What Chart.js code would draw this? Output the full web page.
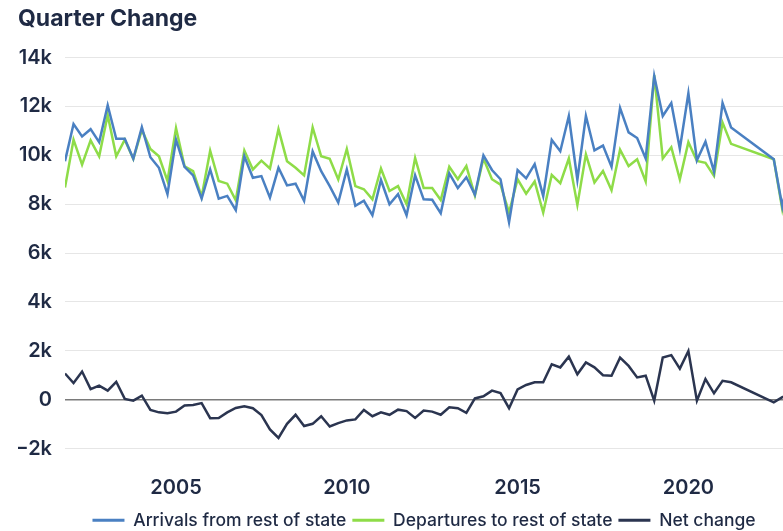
<!DOCTYPE html>
<html>
<head>
<meta charset="utf-8">
<script src="https://cdn.jsdelivr.net/npm/chart.js@4.4.1/dist/chart.umd.min.js"></script>
<style>
  html, body { margin: 0; padding: 0; background: #fff; overflow: hidden; }
  #wrap { width: 783px; height: 531px; position: relative; }
</style>
</head>
<body>
<div id="wrap"><canvas id="chart"></canvas></div>
<script>
// quarterly data, 2021 Q3 - 2022 Q2 missing in the source
const quarters = [
  '2001-Q4',
  '2002-Q1', '2002-Q2', '2002-Q3', '2002-Q4',
  '2003-Q1', '2003-Q2', '2003-Q3', '2003-Q4',
  '2004-Q1', '2004-Q2', '2004-Q3', '2004-Q4',
  '2005-Q1', '2005-Q2', '2005-Q3', '2005-Q4',
  '2006-Q1', '2006-Q2', '2006-Q3', '2006-Q4',
  '2007-Q1', '2007-Q2', '2007-Q3', '2007-Q4',
  '2008-Q1', '2008-Q2', '2008-Q3', '2008-Q4',
  '2009-Q1', '2009-Q2', '2009-Q3', '2009-Q4',
  '2010-Q1', '2010-Q2', '2010-Q3', '2010-Q4',
  '2011-Q1', '2011-Q2', '2011-Q3', '2011-Q4',
  '2012-Q1', '2012-Q2', '2012-Q3', '2012-Q4',
  '2013-Q1', '2013-Q2', '2013-Q3', '2013-Q4',
  '2014-Q1', '2014-Q2', '2014-Q3', '2014-Q4',
  '2015-Q1', '2015-Q2', '2015-Q3', '2015-Q4',
  '2016-Q1', '2016-Q2', '2016-Q3', '2016-Q4',
  '2017-Q1', '2017-Q2', '2017-Q3', '2017-Q4',
  '2018-Q1', '2018-Q2', '2018-Q3', '2018-Q4',
  '2019-Q1', '2019-Q2', '2019-Q3', '2019-Q4',
  '2020-Q1', '2020-Q2', '2020-Q3', '2020-Q4',
  '2021-Q1', '2021-Q2',
  '2022-Q3', '2022-Q4',
  '2023-Q1'
];

const arrivals = [
  9760,
  11280, 10770, 11070, 10540,
  12050, 10680, 10680, 9860,
  11150, 9920, 9490, 8410,
  10640, 9530, 9180, 8230,
  9420, 8230, 8340, 7760,
  9960, 9080, 9150, 8270,
  9490, 8770, 8840, 8140,
  10160, 9350, 8740, 8070,
  9420, 7930, 8140, 7550,
  8990, 8000, 8410, 7550,
  9180, 8200, 8180, 7630,
  9260, 8660, 9100, 8390,
  10000, 9400, 9020, 7260,
  9400, 9060, 9640, 8330,
  10630, 10170, 11610, 9000,
  11610, 10200, 10400, 9530,
  11940, 10940, 10710, 9870,
  13250, 11610, 12140, 10270,
  12540, 9800, 10560, 9330,
  12140, 11140,
  9840, 7900,
  9600
];

const departures = [
  8680,
  10640, 9620, 10610, 9960,
  11650, 9960, 10640, 9850,
  11040, 10260, 9960, 8950,
  11110, 9550, 9350, 8310,
  10190, 8950, 8840, 8160,
  10200, 9420, 9780, 9460,
  11070, 9760, 9490, 9180,
  11140, 9960, 9860, 9010,
  10260, 8740, 8610, 8200,
  9460, 8540, 8740, 8000,
  9890, 8660, 8660, 8170,
  9530, 9020, 9560, 8350,
  9870, 9020, 8800, 7660,
  9020, 8430, 8930, 7660,
  9200, 8860, 9870, 7970,
  10040, 8890, 9360, 8570,
  10230, 9560, 9840, 8930,
  13280, 9870, 10330, 9020,
  10540, 9770, 9690, 9160,
  11340, 10470,
  9840, 7790,
  9400
];

const netChange = [
  1070,
  680, 1150, 430, 570,
  370, 730, 30, -40,
  160, -420, -520, -560,
  -490, -240, -220, -140,
  -760, -750, -520, -340,
  -270, -350, -630, -1220,
  -1570, -990, -620, -1080,
  -990, -680, -1100, -960,
  -850, -810, -420, -680,
  -520, -620, -410, -470,
  -750, -450, -490, -620,
  -310, -350, -540, 50,
  140, 370, 270, -350,
  420, 600, 710, 710,
  1450, 1320, 1760, 1040,
  1520, 1320, 1000, 980,
  1720, 1380, 910, 980,
  -40, 1720, 1820, 1270,
  1990, -40, 840, 260,
  770, 710,
  -110, 100,
  250
];

const yearTicks = [2005, 2010, 2015, 2020];
const valueTicks = [-2000, 0, 2000, 4000, 6000, 8000, 10000, 12000, 14000];

const navy = '#1f2a44';
const fontFamily = 'Inter, "Noto Sans", sans-serif';

function quarterToYear(q) {
  const parts = q.split('-Q');
  return Number(parts[0]) + (Number(parts[1]) - 1) / 4;
}

function toPoints(values) {
  return values.map((v, i) => ({ x: quarterToYear(quarters[i]), y: v }));
}

function fmtK(v) {
  if (v === 0) return '0';
  return (v < 0 ? '\u2212' : '') + Math.abs(v / 1000) + 'k';
}

const ctx = document.getElementById('chart').getContext('2d');

new Chart(ctx, {
  type: 'line',
  data: {
    datasets: [
      {
        label: 'Arrivals from rest of state',
        data: toPoints(arrivals),
        borderColor: '#4a80c2',
        backgroundColor: '#4a80c2',
      },
      {
        label: 'Departures to rest of state',
        data: toPoints(departures),
        borderColor: '#8edc48',
        backgroundColor: '#8edc48',
      },
      {
        label: 'Net change',
        data: toPoints(netChange),
        borderColor: '#2b3550',
        backgroundColor: '#2b3550',
      },
    ],
  },
  options: {
    responsive: true,
    maintainAspectRatio: false,
    animation: false,
    layout: { padding: { left: 18, right: 0, top: 0, bottom: -8 } },
    elements: {
      point: { radius: 0, hoverRadius: 0 },
      line: { borderWidth: 2.5, tension: 0 },
    },
    scales: {
      x: {
        type: 'linear',
        min: 2001.75,
        max: 2022.77,
        grid: { display: false },
        border: { display: false },
        afterBuildTicks: (axis) => { axis.ticks = yearTicks.map(v => ({ value: v })); },
        afterFit: (axis) => { axis.height = 57; },
        ticks: {
          padding: 19,
          color: navy,
          font: { family: fontFamily, size: 20, weight: '600' },
          callback: (v) => String(v),
        },
      },
      y: {
        min: -2000,
        max: 14000,
        border: { display: false },
        grid: {
          drawTicks: false,
          color: (c) => (c.tick && c.tick.value === 0 ? '#7a7a7a' : '#e6e6e6'),
          lineWidth: (c) => (c.tick && c.tick.value === 0 ? 1.5 : 1),
        },
        afterBuildTicks: (axis) => { axis.ticks = valueTicks.map(v => ({ value: v })); },
        afterFit: (axis) => { axis.width = 47; },
        ticks: {
          padding: 13,
          color: navy,
          font: { family: fontFamily, size: 20, weight: '600' },
          callback: (v) => fmtK(v),
        },
      },
    },
    plugins: {
      title: {
        display: true,
        text: 'Quarter Change',
        align: 'start',
        color: navy,
        font: { family: fontFamily, size: 23, weight: 'bold' },
        padding: { top: 5, bottom: 25 },
      },
      legend: {
        position: 'bottom',
        fullSize: false,
        labels: {
          boxWidth: 32,
          boxHeight: 3,
          padding: 6,
          color: navy,
          font: { family: fontFamily, size: 17.5, weight: '500' },
          generateLabels: (chart) => chart.data.datasets.map((d, i) => ({
            text: d.label,
            fillStyle: d.borderColor,
            strokeStyle: d.borderColor,
            lineWidth: 0,
            fontColor: navy,
            datasetIndex: i,
            hidden: false,
          })),
        },
      },
      tooltip: { enabled: false },
    },
  },
});
</script>
</body>
</html>
